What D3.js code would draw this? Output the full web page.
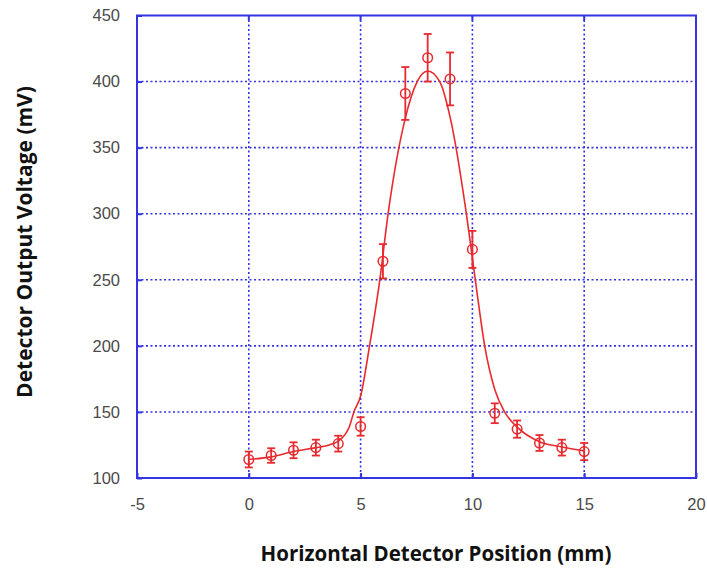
<!DOCTYPE html>
<html>
<head>
<meta charset="utf-8">
<script src="https://cdn.jsdelivr.net/npm/d3@7"></script>
<style>
  body { margin: 0; background: #fff; }
  .tick text { font-family: "Liberation Sans", Arial, sans-serif; font-size: 16.5px; fill: #4a4a4a; }
  .title { font-family: "Open Sans", sans-serif; font-weight: 700; fill: #111; }
</style>
</head>
<body>
<svg width="707" height="569"></svg>
<script>
// measured points
const positions = [0, 1, 2, 3, 4, 5, 6, 7, 8, 9, 10, 11, 12, 13, 14, 15];
const voltages = [114, 117, 121, 123, 126, 139, 264, 391, 418, 402, 273, 149, 137, 126.5, 123, 120];
const errors = [6, 5.5, 6, 6, 6, 7, 13, 20, 18, 20, 14, 7.5, 6.5, 6, 6, 6.5];

// fitted curve
const fitX = [0, 1, 2, 3, 3.6, 4, 4.5, 4.7, 5, 5.4, 5.86, 6.23, 6.98, 7.53, 8, 8.54, 9.03, 9.73, 10.13, 10.55, 11, 11.44, 12, 13, 14, 15];
const fitY = [114, 116, 120, 123, 125, 128, 139, 150, 162, 200, 250, 300, 371, 400, 408, 400, 371, 300, 250, 200, 167, 150, 138.5, 127.5, 123.5, 120.5];

const xTicks = [-5, 0, 5, 10, 15, 20];
const yTicks = [100, 150, 200, 250, 300, 350, 400, 450];
const gridX = [0, 5, 10, 15];
const gridY = [150, 200, 250, 300, 350, 400];

let svg = d3.select('svg');
const margin = {top: 15.5, right: 11, bottom: 91, left: 137},
    width = +svg.attr('width') - margin.left - margin.right,
    height = +svg.attr('height') - margin.top - margin.bottom;

const blue = '#3434e0', red = '#e8292e';

let g = svg.append('g').attr('transform', `translate(${margin.left}, ${margin.top})`);

let x = d3.scaleLinear().domain([-5, 20]).range([0, width]),
    y = d3.scaleLinear().domain([100, 450]).range([height, 0]);

// grid
g.append('g').selectAll('line').data(gridY).enter().append('line')
    .attr('x1', 0).attr('x2', width)
    .attr('y1', d => y(d)).attr('y2', d => y(d))
    .attr('stroke', blue).attr('stroke-width', 1.6)
    .attr('stroke-dasharray', '2,2.5');
g.append('g').selectAll('line').data(gridX).enter().append('line')
    .attr('y1', 0).attr('y2', height)
    .attr('x1', d => x(d)).attr('x2', d => x(d))
    .attr('stroke', blue).attr('stroke-width', 1.6)
    .attr('stroke-dasharray', '2,2.5');

// axes
let xAx = g.append('g')
    .attr('transform', `translate(0, ${height})`)
    .call(d3.axisBottom(x).tickValues(xTicks).tickFormat(d => String(d))
      .tickSizeInner(-5).tickSizeOuter(0).tickPadding(20));
let yAx = g.append('g')
    .call(d3.axisLeft(y).tickValues(yTicks).tickFormat(d => String(d))
      .tickSizeInner(-5).tickSizeOuter(0).tickPadding(17));
[xAx, yAx].forEach(a => {
  a.select('.domain').remove();
  a.selectAll('.tick line').attr('stroke', blue).attr('stroke-width', 2);
});
// top ticks
g.append('g').selectAll('line').data(xTicks).enter().append('line')
    .attr('x1', d => x(d)).attr('x2', d => x(d)).attr('y1', 0).attr('y2', 5)
    .attr('stroke', blue).attr('stroke-width', 2);

g.append('rect')
    .attr('width', width).attr('height', height)
    .attr('fill', 'none').attr('stroke', blue).attr('stroke-width', 2);

// fit
const line = d3.line().x((d, i) => x(fitX[i])).y(d => y(d)).curve(d3.curveMonotoneX);
g.append('path')
    .attr('d', line(fitY))
    .attr('fill', 'none').attr('stroke', red).attr('stroke-width', 1.6);

// error bars + points
let pts = g.append('g').selectAll('g').data(positions).enter().append('g')
    .attr('stroke', red).attr('fill', 'none');
pts.append('line')
    .attr('x1', d => x(d)).attr('x2', d => x(d))
    .attr('y1', (d, i) => y(voltages[i] - errors[i])).attr('y2', (d, i) => y(voltages[i] + errors[i]))
    .attr('stroke-width', 1.8);
pts.append('line')
    .attr('x1', d => x(d) - 4).attr('x2', d => x(d) + 4)
    .attr('y1', (d, i) => y(voltages[i] - errors[i])).attr('y2', (d, i) => y(voltages[i] - errors[i]))
    .attr('stroke-width', 1.8);
pts.append('line')
    .attr('x1', d => x(d) - 4).attr('x2', d => x(d) + 4)
    .attr('y1', (d, i) => y(voltages[i] + errors[i])).attr('y2', (d, i) => y(voltages[i] + errors[i]))
    .attr('stroke-width', 1.8);
pts.append('circle')
    .attr('cx', d => x(d)).attr('cy', (d, i) => y(voltages[i]))
    .attr('r', 4.8).attr('stroke-width', 1.5);

// titles
svg.append('text').attr('class', 'title')
    .attr('x', 436).attr('y', 561).attr('text-anchor', 'middle')
    .style('font-size', '20.5px')
    .text('Horizontal Detector Position (mm)');
svg.append('text').attr('class', 'title')
    .attr('transform', 'translate(32, 242) rotate(-90)').attr('text-anchor', 'middle')
    .style('font-size', '21px')
    .text('Detector Output Voltage (mV)');
</script>
</body>
</html>
